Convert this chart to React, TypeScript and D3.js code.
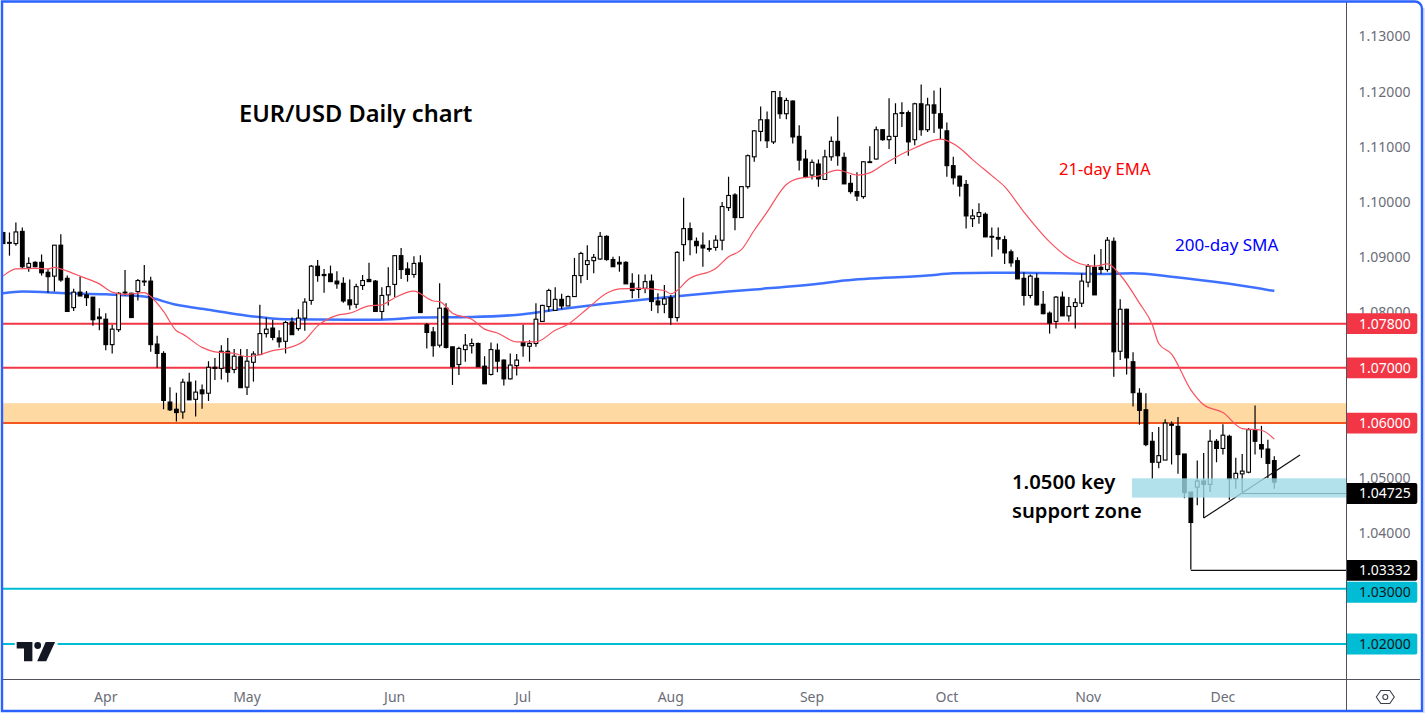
import { useRef, useEffect } from 'react';
import * as d3 from 'd3';

// Candles, one entry per session, prices in 1/10000 (10946 = 1.0946)
const opens = [
  10945,10927,10925,10947,10882,10891,10891,10873,10866,10922,
  10862,10809,10837,10832,10828,10792,10788,10742,10769,10837,
  10835,10838,10856,10857,10743,10726,10638,10625,10620,10674,
  10643,10660,10654,10701,10699,10730,10697,10720,10665,10710,
  10724,10762,10772,10754,10748,10783,10771,10790,10822,10884,
  10869,10870,10857,10853,10823,10815,10849,10860,10857,10802,
  10832,10851,10903,10879,10869,10890,10778,10765,10741,10808,
  10738,10706,10733,10740,10744,10703,10688,10732,10714,10680,
  10704,10746,10739,10744,10784,10811,10804,10824,10812,10829,
  10867,10887,10894,10897,10938,10896,10891,10891,10853,10844,
  10844,10857,10821,10815,10827,10791,10923,10952,10929,10922,
  10916,10918,10931,10990,11013,10972,11028,11082,11128,11149,
  11109,11189,11160,11183,11119,11078,11049,11069,11041,11082,
  11110,11081,11034,11019,11010,11073,11078,11131,11113,11119,
  11161,11162,11113,11178,11131,11176,11160,11129,11066,11047,
  11032,10970,10974,10978,10938,10936,10932,10910,10894,10862,
  10831,10862,10815,10799,10784,10828,10794,10811,10817,10855,
  10882,10882,10878,10929,10730,10806,10711,10654,10624,10567,
  10529,10533,10598,10594,10544,10475,10484,10495,10489,10567,
  10554,10576,10499,10508,10511,10588,10561,10553,10532,
];
const highs = [
  10946,10945,10963,10954,10900,10893,10905,10879,10922,10942,
  10867,10843,10865,10839,10828,10808,10799,10778,10837,10877,
  10836,10861,10886,10865,10758,10730,10665,10655,10680,10691,
  10677,10670,10712,10718,10741,10754,10734,10734,10734,10730,
  10814,10791,10787,10768,10785,10791,10806,10826,10886,10895,
  10879,10885,10875,10864,10860,10852,10868,10890,10859,10846,
  10882,10904,10917,10891,10902,10904,10781,10774,10853,10817,
  10738,10738,10761,10753,10746,10721,10746,10744,10715,10726,
  10725,10778,10750,10817,10814,10843,10846,10834,10831,10899,
  10910,10922,10906,10946,10940,10901,10902,10893,10871,10869,
  10869,10869,10835,10850,10832,10911,11008,10963,10936,10945,
  10931,10940,11000,11046,11016,11028,11086,11130,11173,11164,
  11201,11201,11189,11184,11139,11095,11077,11077,11095,11119,
  11155,11090,11049,11054,11074,11101,11137,11132,11188,11179,
  11181,11166,11180,11213,11189,11202,11207,11144,11082,11048,
  11040,10987,10998,10981,10954,10954,10939,10914,10900,10873,
  10869,10871,10839,10802,10830,10838,10828,10826,10871,10888,
  10905,10915,10937,10936,10824,10807,10728,10663,10654,10584,
  10593,10607,10603,10611,10544,10475,10532,10546,10588,10571,
  10598,10579,10537,10544,10591,10632,10595,10570,10540,
];
const lows = [
  10925,10903,10921,10880,10874,10882,10867,10836,10838,10856,
  10802,10803,10830,10812,10776,10768,10732,10726,10765,10831,
  10791,10822,10848,10729,10700,10625,10622,10603,10608,10642,
  10612,10626,10640,10678,10679,10674,10690,10664,10651,10675,
  10724,10755,10750,10737,10726,10760,10767,10767,10814,10856,
  10836,10856,10843,10818,10805,10808,10841,10856,10802,10788,
  10813,10828,10861,10856,10863,10800,10735,10720,10737,10735,
  10669,10687,10711,10726,10702,10671,10686,10692,10668,10679,
  10686,10720,10711,10738,10784,10802,10803,10806,10812,10829,
  10853,10859,10871,10895,10894,10883,10874,10852,10826,10826,
  10835,10803,10799,10799,10778,10784,10893,10904,10907,10883,
  10910,10912,10913,10984,10949,10972,11024,11073,11110,11098,
  11105,11151,11150,11106,11057,11043,11041,11028,11040,11075,
  11066,11033,11015,11002,11006,11072,11077,11111,11096,11069,
  11136,11084,11103,11120,11127,11125,11114,11046,11032,11010,
  10952,10955,10961,10937,10901,10914,10888,10883,10861,10813,
  10826,10813,10797,10762,10771,10794,10784,10771,10810,10846,
  10832,10870,10874,10684,10714,10688,10630,10597,10558,10499,
  10518,10533,10525,10508,10464,10335,10451,10428,10475,10529,
  10543,10461,10481,10475,10509,10543,10537,10500,10481,
];
const closes = [
  10925,10926,10946,10883,10889,10883,10872,10865,10922,10859,
  10802,10837,10830,10827,10787,10789,10742,10770,10835,10836,
  10791,10858,10857,10742,10726,10641,10624,10619,10674,10642,
  10656,10653,10701,10699,10730,10692,10721,10664,10712,10725,
  10762,10770,10755,10747,10782,10760,10790,10819,10884,10867,
  10867,10856,10852,10821,10814,10847,10858,10856,10802,10831,
  10847,10903,10878,10869,10889,10800,10764,10740,10808,10737,
  10702,10735,10741,10744,10702,10671,10733,10712,10680,10705,
  10714,10740,10744,10788,10813,10840,10824,10812,10829,10867,
  10907,10894,10900,10938,10896,10883,10888,10852,10840,10842,
  10856,10820,10814,10825,10791,10909,10952,10932,10921,10917,
  10915,10931,10992,11012,10972,11028,11084,11129,11149,11111,
  11200,11160,11184,11118,11076,11045,11072,11042,11082,11110,
  11084,11033,11019,11011,11073,11072,11131,11113,11119,11160,
  11162,11109,11178,11131,11176,11161,11134,11066,11044,11029,
  10975,10975,10981,10937,10937,10933,10908,10890,10861,10831,
  10866,10814,10798,10781,10828,10794,10811,10818,10857,10884,
  10832,10878,10931,10729,10806,10718,10655,10623,10561,10529,
  10541,10600,10596,10543,10474,10420,10495,10489,10567,10554,
  10578,10499,10509,10513,10588,10567,10553,10527,10493,
];

const emaIndex = [
  0,2,5,7,8,10,12,15,17,19,22,23,25,27,28,31,33,36,38,40,42,44,47,49,52,54,57,59,61,64,
  67,68,70,73,75,77,80,83,86,88,91,94,96,99,103,104,107,111,113,115,117,119,122,124,127,
  130,133,135,137,140,142,146,149,151,154,156,159,163,167,170,172,174,177,179,180,182,
  185,187,190,193,196,198,
];
const emaValues = [
  1.0866,1.0879,1.0880,1.0879,1.0882,1.0875,1.0866,1.0852,1.0837,1.0833,1.0836,1.0829,1.0802,1.0767,1.0761,
  1.0737,1.0729,1.0726,1.0720,1.0724,1.0731,1.0735,1.0750,1.0776,1.0795,1.0799,1.0812,1.0814,1.0827,1.0839,
  1.0821,1.0820,1.0799,1.0788,1.0770,1.0763,1.0747,1.0747,1.0768,1.0779,1.0807,1.0835,1.0843,1.0844,1.0840,1.0834,
  1.0862,1.0880,1.0901,1.0914,1.0949,1.0982,1.1032,1.1043,1.1047,1.1058,1.1049,1.1053,1.1067,1.1087,1.1098,
  1.1114,1.1098,1.1077,1.1048,1.1028,1.0982,1.0928,1.0892,1.0884,1.0888,1.0868,1.0817,1.0778,1.0744,1.0725,
  1.0660,1.0633,1.0619,1.0590,1.0587,1.0571,
];

// 200-day SMA
const smaIndex = [0,3,10,16,22,27,32,37,44,54,58,65,73,81,86,93,107,116,127,131,144,148,154,158,171,176,182,191,198];
const smaValues = [
  1.0835,1.0838,1.0835,1.0833,1.0829,1.0814,1.0805,1.0796,1.0788,1.0787,1.0787,1.0791,1.0792,1.0797,1.0805,
  1.0815,1.0832,1.0841,1.0852,1.0858,1.0867,1.0871,1.0872,1.0872,1.0870,1.0871,1.0865,1.0852,1.0839,
];

const monthLabels = ['Apr', 'May', 'Jun', 'Jul', 'Aug', 'Sep', 'Oct', 'Nov', 'Dec'];
const monthIndex = [16, 38, 61, 81, 104, 126, 147, 169, 190];
const priceTicks = [1.13, 1.12, 1.11, 1.1, 1.09, 1.08, 1.05, 1.04];

const resistanceLevels = [1.078, 1.07];
const supportLevels = [1.03, 1.02];
const orangeZone = [1.0636, 1.06];
const blueZone = [1.05, 1.0465];
const lastClose = 1.04725;
const swingLow = 1.03332;

const W = 1425;
const H = 713;
const AXIS_X = 1346.5;
const TIME_Y = 679.5;
const FONT = '"Noto Sans", sans-serif';
const RED = '#f23645';
const CYAN = '#00bcd4';

const App = () => {
  const svgRef = useRef<SVGSVGElement>(null);

  useEffect(() => {
    const svg = d3.select(svgRef.current);
    svg.selectAll('*').remove();

    const x = d3.scaleLinear().domain([0, 198]).range([3.04, 1274.3]);
    const y = d3.scaleLinear().domain([1.13, 1.02]).range([36.4, 644]);

    svg.append('rect').attr('width', W).attr('height', H).attr('fill', '#fff');
    svg.append('rect').attr('x', 1423).attr('y', 8).attr('width', 2).attr('height', H - 8).attr('fill', '#e3e6f6');

    svg.append('clipPath').attr('id', 'plot')
      .append('rect').attr('x', 3).attr('y', 2).attr('width', AXIS_X - 3).attr('height', TIME_Y - 2);

    const plot = svg.append('g').attr('clip-path', 'url(#plot)');

    // orange zone and the flat levels
    plot.append('rect')
      .attr('x', 3).attr('width', AXIS_X - 3)
      .attr('y', y(orangeZone[0])).attr('height', y(orangeZone[1]) - y(orangeZone[0]))
      .attr('fill', '#ffd9a2');

    const flat = (levels: number[], color: string) => {
      plot.selectAll(null).data(levels).join('line')
        .attr('x1', 3).attr('x2', AXIS_X)
        .attr('y1', d => y(d)).attr('y2', d => y(d))
        .attr('stroke', color).attr('stroke-width', 2);
    };
    flat(resistanceLevels, RED);
    flat(supportLevels, CYAN);
    flat([orangeZone[1]], '#f4581f');

    // SMA goes under the candles
    const line = (idx: number[], vals: number[]) =>
      d3.line<number>()
        .x((_, i) => x(idx[i]))
        .y(d => y(d))
        .curve(d3.curveMonotoneX)(vals) || '';

    plot.append('path').attr('d', line(smaIndex, smaValues))
      .attr('fill', 'none').attr('stroke', '#2962ff').attr('stroke-width', 2.5).attr('opacity', 0.9);

    // Candles
    const candles = d3.range(opens.length).map(i => ({
      i,
      o: opens[i] / 1e4,
      h: highs[i] / 1e4,
      l: lows[i] / 1e4,
      c: closes[i] / 1e4,
    }));

    const g = plot.selectAll('g.candle').data(candles).join('g').attr('class', 'candle');
    g.append('line')
      .attr('x1', d => x(d.i)).attr('x2', d => x(d.i))
      .attr('y1', d => y(d.h)).attr('y2', d => y(d.l))
      .attr('stroke', '#000').attr('stroke-width', 1.2);
    g.append('rect')
      .attr('x', d => x(d.i) - 1.85)
      .attr('width', 3.7)
      .attr('y', d => y(Math.max(d.o, d.c)))
      .attr('height', d => Math.max(Math.abs(y(d.o) - y(d.c)), 0.8))
      .attr('fill', d => (d.c >= d.o ? '#fff' : '#000'))
      .attr('stroke', '#000').attr('stroke-width', 1.1);

    plot.append('path').attr('d', line(emaIndex, emaValues))
      .attr('fill', 'none').attr('stroke', '#f7525f').attr('stroke-width', 1.2);

    // Drawings: trend line, swing low and last close rays
    plot.append('line')
      .attr('x1', x(187)).attr('y1', y(lows[187] / 1e4))
      .attr('x2', x(202)).attr('y2', y(1.0542))
      .attr('stroke', '#111').attr('stroke-width', 1.2);
    plot.append('line')
      .attr('x1', x(185)).attr('x2', AXIS_X)
      .attr('y1', y(swingLow)).attr('y2', y(swingLow))
      .attr('stroke', '#111').attr('stroke-width', 1.2);
    plot.append('line')
      .attr('x1', x(193)).attr('x2', AXIS_X)
      .attr('y1', y(lastClose)).attr('y2', y(lastClose))
      .attr('stroke', '#111').attr('stroke-width', 1.2);

    // blue support zone sits over the candles
    plot.append('rect')
      .attr('x', 1132).attr('width', AXIS_X - 1132)
      .attr('y', y(blueZone[0])).attr('height', y(blueZone[1]) - y(blueZone[0]))
      .attr('fill', '#9fd9e6').attr('opacity', 0.8);

    // Logo
    const logo = svg.append('g').attr('transform', 'translate(16.7,642)');
    logo.append('rect').attr('x', -2).attr('y', -2).attr('width', 43).attr('height', 24).attr('fill', '#fff').attr('opacity', 0.9);
    logo.append('path').attr('d', 'M0 0H15.7V19.2H7.3V6.4H0Z').attr('fill', '#131722');
    logo.append('circle').attr('cx', 21).attr('cy', 3.5).attr('r', 3.4).attr('fill', '#131722');
    logo.append('path').attr('d', 'M29 0H38.4L29.5 19.2H20.5Z').attr('fill', '#131722');

    // Axes
    svg.append('line').attr('x1', AXIS_X).attr('x2', AXIS_X).attr('y1', 2).attr('y2', 711)
      .attr('stroke', '#50535e').attr('stroke-width', 1);
    svg.append('line').attr('x1', 3).attr('x2', 1420).attr('y1', TIME_Y).attr('y2', TIME_Y)
      .attr('stroke', '#50535e').attr('stroke-width', 1);

    svg.selectAll('text.price').data(priceTicks).join('text')
      .attr('class', 'price')
      .attr('x', 1384.5).attr('y', d => y(d))
      .attr('dy', '0.35em').attr('text-anchor', 'middle')
      .attr('font-family', FONT).attr('font-size', 14).attr('fill', '#6a6d78')
      .text(d => d.toFixed(5));

    svg.selectAll('text.month').data(monthLabels).join('text')
      .attr('class', 'month')
      .attr('x', (_, i) => x(monthIndex[i])).attr('y', 702)
      .attr('text-anchor', 'middle')
      .attr('font-family', FONT).attr('font-size', 14).attr('fill', '#6a6d78')
      .text(d => d);

    // Price labels, the 1.03 tag is pushed down by the swing low tag
    const labelRows = [
      { value: 1.078, bg: RED, fg: '#fff', shift: 0 },
      { value: 1.07, bg: RED, fg: '#fff', shift: 0 },
      { value: 1.06, bg: RED, fg: '#fff', shift: 0 },
      { value: lastClose, bg: '#000', fg: '#fff', shift: 0 },
      { value: 1.03, bg: CYAN, fg: '#131722', shift: 3.5 },
      { value: swingLow, bg: '#000', fg: '#fff', shift: 0 },
      { value: 1.02, bg: CYAN, fg: '#131722', shift: 0 },
    ];
    const tag = svg.selectAll('g.tag').data(labelRows).join('g').attr('class', 'tag');
    tag.append('path')
      .attr('d', d => {
        const t = y(d.value) + d.shift - 10.4;
        return `M${AXIS_X + 0.5} ${t}H1415.3a2 2 0 0 1 2 2V${t + 18.8}a2 2 0 0 1 -2 2H${AXIS_X + 0.5}Z`;
      })
      .attr('fill', d => d.bg);
    tag.append('text')
      .attr('x', 1384.8).attr('y', d => y(d.value) + d.shift).attr('dy', '0.35em')
      .attr('text-anchor', 'middle')
      .attr('font-family', FONT).attr('font-size', 14)
      .attr('fill', d => d.fg)
      .text(d => d.value.toFixed(5));

    // Settings icon
    const gear = svg.append('g').attr('transform', 'translate(1385.3,697)');
    gear.append('path').attr('d', 'M-9 0L-4.5 -6.5H4.5L9 0L4.5 6.5H-4.5Z')
      .attr('fill', 'none').attr('stroke', '#3a3d48').attr('stroke-width', 1.1);
    gear.append('circle').attr('r', 2.5).attr('fill', 'none').attr('stroke', '#3a3d48').attr('stroke-width', 1.1);

    // Annotations
    const note = (t: string, tx: number, ty: number, size: number, weight: number, color: string) =>
      svg.append('text').attr('x', tx).attr('y', ty)
        .attr('font-family', FONT).attr('font-size', size).attr('font-weight', weight)
        .attr('fill', color).text(t);
    note('EUR/USD Daily chart', 239, 122, 23.6, 600, '#000');
    note('21-day EMA', 1059, 175, 16.6, 400, '#f00');
    note('200-day SMA', 1175, 251, 17, 400, '#0000ff');
    note('1.0500 key', 1012, 489, 20.3, 600, '#000');
    note('support zone', 1012, 518, 20.2, 600, '#000');

    // Frame
    svg.append('path')
      .attr('d', `M2 1.5H1415a7 7 0 0 1 7 7V711H2Z`)
      .attr('fill', 'none').attr('stroke', '#2962ff').attr('stroke-width', 2.4);
  }, []);

  return (
    <svg
      ref={svgRef}
      width={W}
      height={H}
      style={{ position: 'absolute', left: 0, top: 0, display: 'block' }}
    />
  );
};

export default App;
